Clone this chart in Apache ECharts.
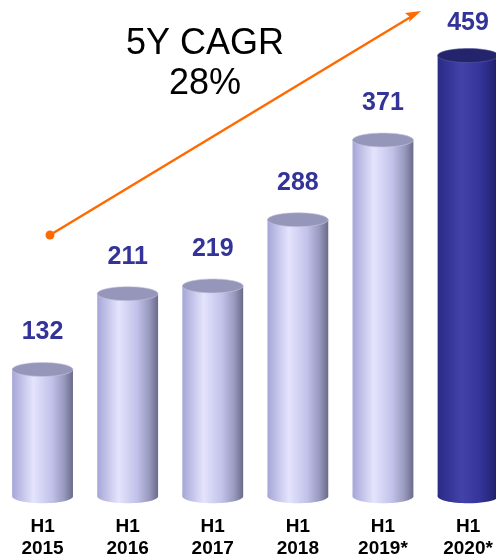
<!DOCTYPE html>
<html>
<head>
<meta charset="utf-8">
<script src="https://cdn.jsdelivr.net/npm/echarts@6/dist/echarts.min.js"></script>
<style>
  html, body { margin: 0; padding: 0; background: #fff; }
  #chart { width: 496px; height: 558px; }
</style>
</head>
<body>
<div id="chart"></div>
<script>
// Half-year figures, H1 2015 – H1 2020*
const halves = ['H1', 'H1', 'H1', 'H1', 'H1', 'H1'];
const years = ['2015', '2016', '2017', '2018', '2019*', '2020*'];
const values = [132, 211, 219, 288, 371, 459];
const highlightIndex = 5;
const cagrTitle = '5Y CAGR';
const cagrValue = '28%';

const categories = halves.map((h, i) => h + '\n' + years[i]);
const FONT = '"Liberation Sans", Arial, Helvetica, sans-serif';

const lightBody = {
  type: 'linear', x: 0, y: 0, x2: 1, y2: 0,
  colorStops: [
    { offset: 0, color: '#a6a6d8' },
    { offset: 0.35, color: '#e4e4fd' },
    { offset: 0.65, color: '#c2c2ea' },
    { offset: 0.85, color: '#9a9ac0' },
    { offset: 1, color: '#6a6a8a' }
  ]
};
const darkBody = {
  type: 'linear', x: 0, y: 0, x2: 1, y2: 0,
  colorStops: [
    { offset: 0, color: '#2a2a86' },
    { offset: 0.4, color: '#4242aa' },
    { offset: 0.7, color: '#34349a' },
    { offset: 0.9, color: '#26267a' },
    { offset: 1, color: '#1c1c5c' }
  ]
};

function renderCylinder(params, api) {
  const idx = api.value(0);
  const v = api.value(1);
  const top = api.coord([idx, v]);
  const base = api.coord([idx, 0]);
  const bw = api.size([1, 0])[0] * 0.715;
  const rx = bw / 2;
  const ry = 7;
  const cx = top[0];
  const dark = idx === highlightIndex;
  const body = dark ? darkBody : lightBody;
  // value label sits above the lid, but never runs off the top edge
  const labelY = Math.max(top[1] - 37, 23);
  return {
    type: 'group',
    children: [
      { type: 'ellipse', shape: { cx: cx, cy: base[1], rx: rx, ry: ry }, style: { fill: body } },
      { type: 'rect', shape: { x: cx - rx, y: top[1], width: bw, height: base[1] - top[1] }, style: { fill: body } },
      { type: 'ellipse', shape: { cx: cx, cy: top[1], rx: rx, ry: ry },
        style: { fill: dark ? '#24246c' : '#9696ba', stroke: dark ? '#5a5aa0' : '#c8c8e0', lineWidth: 0.6 } },
      { type: 'text', style: {
          text: String(v), x: cx, y: labelY,
          align: 'center', verticalAlign: 'middle',
          fill: '#333399', font: 'bold 25px ' + FONT } }
    ]
  };
}

const chart = echarts.init(document.getElementById('chart'), null, { renderer: 'canvas' });
chart.setOption({
  animation: false,
  backgroundColor: '#ffffff',
  grid: { left: 0, top: 16.2, right: -14.6, bottom: 61.8, containLabel: false, outerBoundsMode: 'none' },
  xAxis: {
    type: 'category',
    data: categories,
    axisLine: { show: false },
    axisTick: { show: false },
    axisLabel: {
      margin: 20,
      color: '#000',
      fontFamily: FONT,
      fontWeight: 'bold',
      fontSize: 19,
      lineHeight: 22,
      interval: 0
    }
  },
  yAxis: { type: 'value', min: 0, max: 500, show: false, splitLine: { show: false } },
  series: [{
    type: 'custom',
    renderItem: renderCylinder,
    data: values.map((v, i) => [i, v]),
    encode: { x: 0, y: 1 },
    clip: false
  }],
  graphic: [
    { type: 'line', shape: { x1: 50, y1: 235, x2: 414, y2: 15 },
      style: { stroke: '#ff6a00', lineWidth: 2.5 } },
    { type: 'circle', shape: { cx: 50, cy: 235, r: 4.5 }, style: { fill: '#ff6a00' } },
    { type: 'polygon', shape: { points: [[421, 11], [405, 13], [410, 17], [409, 22]] },
      style: { fill: '#ff6a00' } },
    { type: 'text', style: { text: cagrTitle, x: 205, y: 44, align: 'center', verticalAlign: 'middle',
        fill: '#000', font: '36px ' + FONT } },
    { type: 'text', style: { text: cagrValue, x: 205, y: 84, align: 'center', verticalAlign: 'middle',
        fill: '#000', font: '36px ' + FONT } }
  ]
});
</script>
</body>
</html>
